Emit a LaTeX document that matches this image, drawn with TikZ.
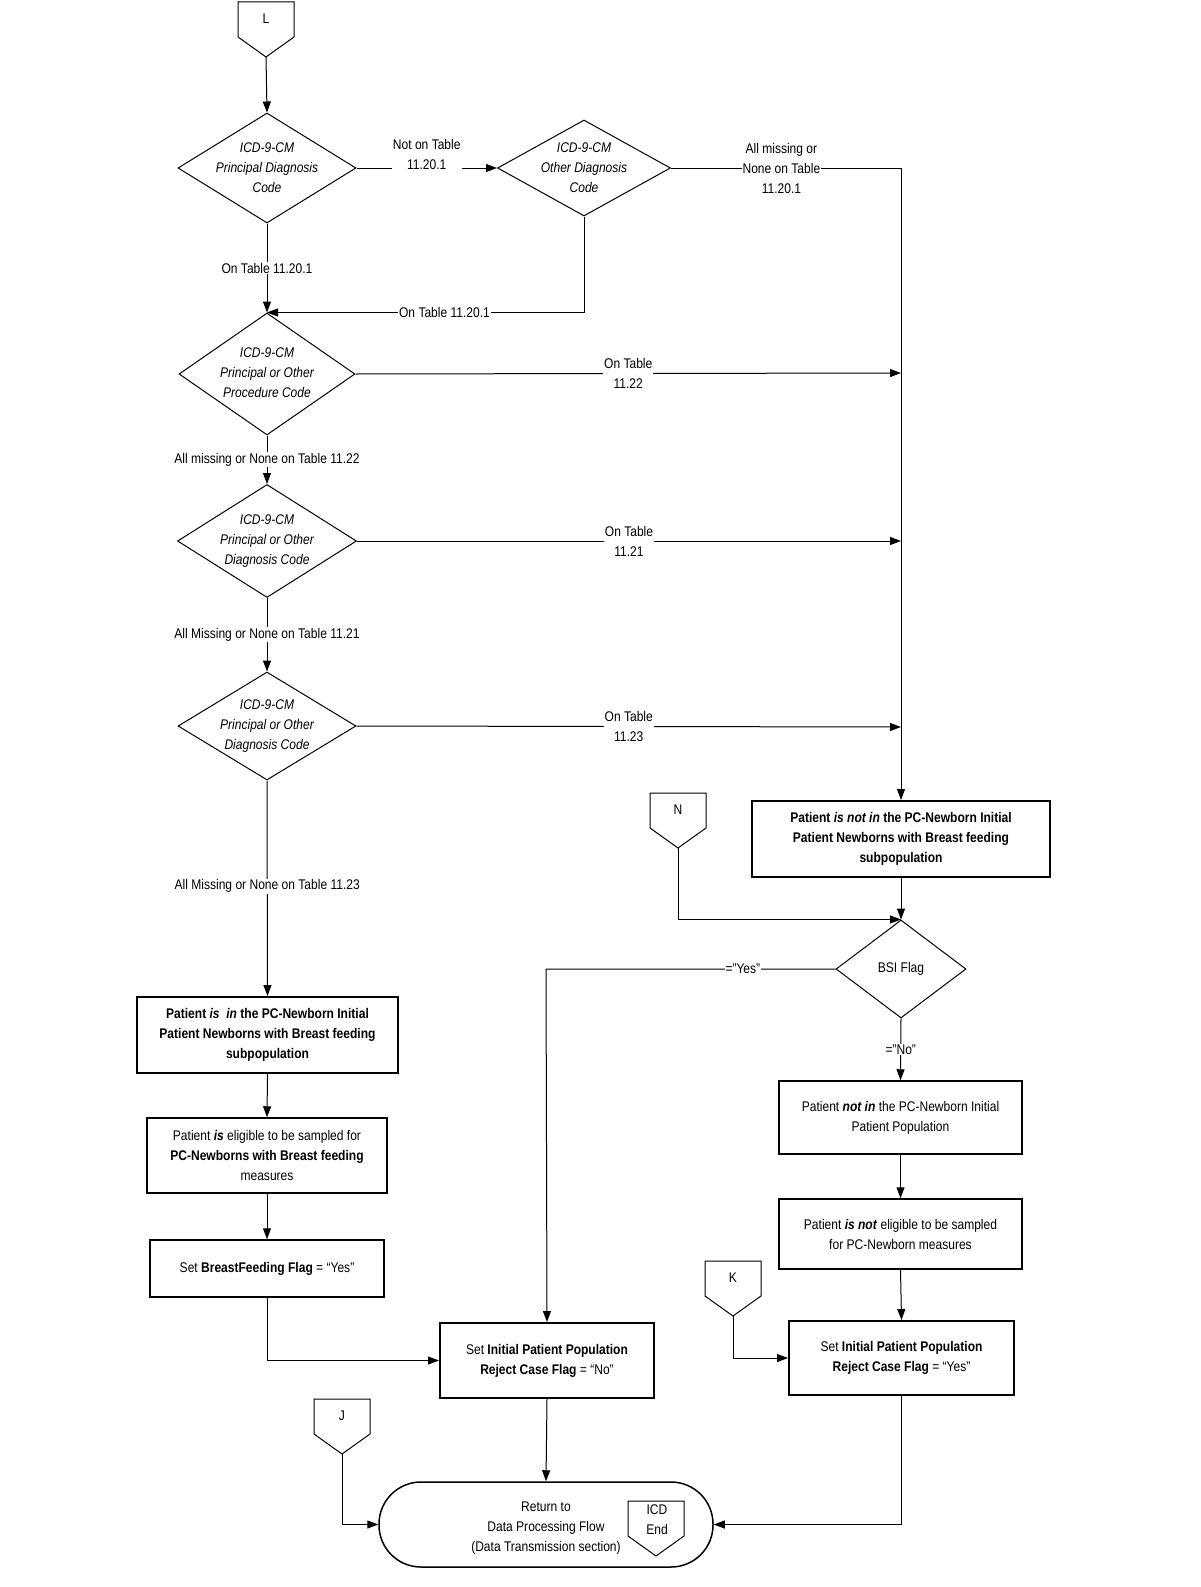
\documentclass[tikz,border=0pt]{standalone}
\usepackage{fontspec}
\setmainfont{Liberation Sans}[FakeStretch=0.86]
\usetikzlibrary{shapes.geometric,arrows.meta}
\begin{document}
\begin{tikzpicture}[x=1pt,y=-1pt,
  font=\fontsize{14}{20}\selectfont,
  line width=1pt,
  arr/.style={-{Triangle[length=11pt,width=8pt]}},
  dia/.style={draw,diamond,inner sep=0pt},
  box/.style={draw,rectangle,inner sep=0pt,align=center},
  tbox/.style={box,line width=2pt},
  lbl/.style={fill=white,inner sep=1pt,align=center},
  txt/.style={align=center,inner sep=0pt}]
\useasboundingbox (0,0) rectangle (1201,1587);
% off-page connector macro
\newcommand{\offpg}[4]{% left, top, name, text
  \draw (#1,#2) -- (#1+56,#2) -- (#1+56,#2+35) -- (#1+28,#2+55) coordinate (#3) -- (#1,#2+35) -- cycle;
  \node[txt] (#3t) at (#1+28,#2+17) {#4};}
\offpg{238}{2}{L}{L}
% diamonds
\node[dia,minimum width=178pt,minimum height=110pt] (d1) at (267,168) {};
\node[txt,font=\fontsize{14}{20}\selectfont\itshape] (d1t) at (267,168) {ICD-9-CM\\Principal Diagnosis\\Code};
\node[dia,minimum width=173pt,minimum height=96pt] (d2) at (584,168) {};
\node[txt,font=\fontsize{14}{20}\selectfont\itshape] (d2t) at (584,168) {ICD-9-CM\\Other Diagnosis\\Code};
\node[dia,minimum width=176pt,minimum height=122pt] (d3) at (267,374) {};
\node[txt,font=\fontsize{14}{20}\selectfont\itshape] (d3t) at (267,373) {ICD-9-CM\\Principal or Other\\Procedure Code};
\node[dia,minimum width=179pt,minimum height=113pt] (d4) at (267,541) {};
\node[txt,font=\fontsize{14}{20}\selectfont\itshape] (d4t) at (267,541) {ICD-9-CM\\Principal or Other\\Diagnosis Code};
\node[dia,minimum width=178pt,minimum height=108pt] (d5) at (267,726) {};
\node[txt,font=\fontsize{14}{20}\selectfont\itshape] (d5t) at (267,726) {ICD-9-CM\\Principal or Other\\Diagnosis Code};
\node[dia,minimum width=130pt,minimum height=98pt] (bsi) at (901,969) {};
\node[txt] (bsit) at (901,969) {BSI Flag};
% boxes
\node[tbox,minimum width=261pt,minimum height=76pt,font=\fontsize{14}{20}\selectfont\bfseries] (b1) at (267.5,1035) {Patient \textit{is\ \ in} the PC-Newborn Initial\\Patient Newborns with Breast feeding\\subpopulation};
\node[box,line width=1.5pt,minimum width=240pt,minimum height=75pt] (b2) at (267,1155.5) {Patient \textbf{\textit{is}} eligible to be sampled for\\\textbf{PC-Newborns with Breast feeding}\\measures};
\node[box,line width=1.5pt,minimum width=234pt,minimum height=57pt] (b3) at (267,1268.5) {Set \textbf{BreastFeeding Flag} = “Yes”};
\node[tbox,minimum width=214pt,minimum height=75pt] (b4) at (547,1360.5) {Set \textbf{Initial Patient Population}\\\textbf{Reject Case Flag} = “No”};
\node[tbox,minimum width=298pt,minimum height=76pt,font=\fontsize{14}{20}\selectfont\bfseries] (p1) at (901,839) {Patient \textit{is not in} the PC-Newborn Initial\\Patient Newborns with Breast feeding\\subpopulation};
\node[box,line width=1.5pt,minimum width=243pt,minimum height=73pt] (r1) at (900.5,1117.5) {Patient \textbf{\textit{not in}} the PC-Newborn Initial\\Patient Population};
\node[box,line width=1.5pt,minimum width=243pt,minimum height=70pt] (r2) at (900.5,1234) {Patient \textbf{\textit{is not}} eligible to be sampled\\for PC-Newborn measures};
\node[tbox,minimum width=225pt,minimum height=74pt] (r3) at (901.5,1358) {Set \textbf{Initial Patient Population}\\\textbf{Reject Case Flag} = “Yes”};
% terminal
\node[draw,rounded corners=42pt,line width=1.5pt,minimum width=334pt,minimum height=85pt] (term) at (546,1524.5) {};
\node[txt] (termt) at (546,1528) {Return to\\Data Processing Flow\\(Data Transmission section)};
\offpg{628}{1501}{icd}{}
\node[txt] (icdt) at (657,1520) {ICD\\End};
\offpg{650}{793}{N}{N}
\offpg{705}{1261}{K}{K}
\offpg{314}{1399}{J}{J}
% connectors
\draw[arr] (L) -- (d1.north);
\draw[arr] (d1.east) -- node[lbl,above=-3pt] (l1) {Not on Table\\11.20.1} (d2.west);
\draw (d2.east) -- node[lbl,pos=0.48] (l2) {All missing or\\None on Table\\11.20.1} (901,168) coordinate (rt);
\draw[arr] (rt) -- (p1.north);
\draw[arr] (d1.south) -- node[lbl] (l3) {On Table 11.20.1} (d3.north);
\draw[arr] (d2.south) |- node[lbl,pos=0.72] (l4) {On Table 11.20.1} (d3.north);
\draw[arr] (d3.east) -- node[lbl] (l5) {On Table\\11.22} (901,373);
\draw[arr] (d3.south) -- node[lbl] (l6) {All missing or None on Table 11.22} (d4.north);
\draw[arr] (d4.east) -- node[lbl] (l7) {On Table\\11.21} (901,541);
\draw[arr] (d4.south) -- node[lbl] (l8) {All Missing or None on Table 11.21} (d5.north);
\draw[arr] (d5.east) -- node[lbl] (l9) {On Table\\11.23} (901,727);
\draw[arr] (d5.south) -- node[lbl,pos=0.49] (l10) {All Missing or None on Table 11.23} (b1.north);
\draw[arr] (b1.south) -- (b2.north);
\draw[arr] (b2.south) -- (b3.north);
\draw[arr] (b3.south) |- (b4.west);
\draw[arr] (b4.south) -- (term.north);
\draw[arr] (J) |- (term.west);
\draw[arr] (p1.south) -- (bsi.north);
\draw[arr] (N) |- (bsi.north);
\draw[arr] (bsi.west) -- node[lbl,pos=0.32] (l11) {=”Yes”} (546,969) -- (b4.north);
\draw[arr] (bsi.south) -- node[lbl] (l12) {=”No”} (r1.north);
\draw[arr] (r1.south) -- (r2.north);
\draw[arr] (r2.south) -- (r3.north);
\draw[arr] (K) |- (r3.west);
\draw[arr] (r3.south) |- (term.east);
\end{tikzpicture}
\end{document}
